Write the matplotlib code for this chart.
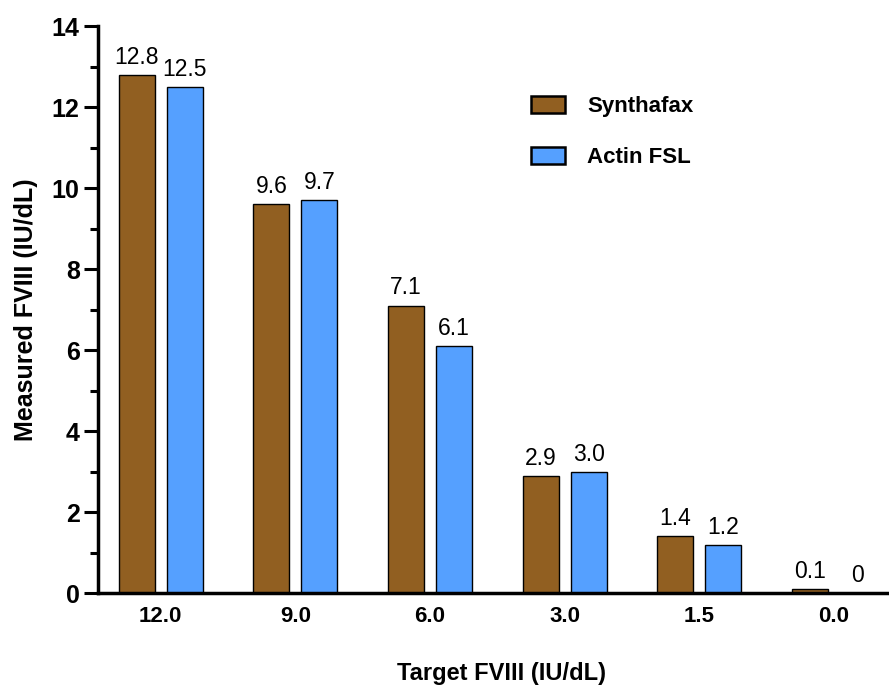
import matplotlib
matplotlib.use("Agg")
import matplotlib.pyplot as plt
import numpy as np
from matplotlib.ticker import MultipleLocator
from matplotlib.patches import Patch

categories = ["12.0", "9.0", "6.0", "3.0", "1.5", "0.0"]
synthafax = [12.8, 9.6, 7.1, 2.9, 1.4, 0.1]
actin = [12.5, 9.7, 6.1, 3.0, 1.2, 0.0]
synth_labels = ["12.8", "9.6", "7.1", "2.9", "1.4", "0.1"]
actin_labels = ["12.5", "9.7", "6.1", "3.0", "1.2", "0"]

plt.rcParams['font.family'] = ['Liberation Sans', 'DejaVu Sans']

fig = plt.figure(figsize=(8.89, 6.85), dpi=100)
ax = fig.add_axes([0.110, 0.134, 0.890, 0.828])

brown = "#915F21"
blue = "#55A0FF"
x = np.arange(len(categories))
w = 0.267
off = 0.178
ax.bar(x - off, synthafax, w, color=brown, edgecolor="black", linewidth=1.0)
ax.bar(x + off, actin, w, color=blue, edgecolor="black", linewidth=1.0)

for xi, v, t in zip(x - off, synthafax, synth_labels):
    ax.text(xi, v + 0.15, t, ha="center", va="bottom", fontsize=16.5)
for xi, v, t in zip(x + off, actin, actin_labels):
    ax.text(xi, v + 0.15, t, ha="center", va="bottom", fontsize=16.5)

ax.set_xlim(-0.468, 5.41)
ax.set_ylim(0, 14)
ax.set_xticks(x)
ax.set_xticklabels(categories, fontsize=16, fontweight="bold")
ax.tick_params(axis="x", length=0, pad=9)
ax.yaxis.set_major_locator(MultipleLocator(2))
ax.yaxis.set_minor_locator(MultipleLocator(1))
ax.tick_params(axis="y", which="major", length=10, width=2.2, labelsize=18, pad=3)
ax.tick_params(axis="y", which="minor", length=6, width=2.2)
for lab in ax.get_yticklabels():
    lab.set_fontweight("bold")
for s in ["top", "right"]:
    ax.spines[s].set_visible(False)
for s in ["left", "bottom"]:
    ax.spines[s].set_linewidth(2.5)

ax.set_ylabel("Measured FVIII (IU/dL)", fontsize=18, fontweight="bold")
ax.yaxis.set_label_coords(-0.076, 0.5)
ax.set_xlabel("Target FVIII (IU/dL)", fontsize=17, fontweight="bold")
ax.xaxis.set_label_coords(0.51, -0.122)

handles = [Patch(facecolor=brown, edgecolor="black", linewidth=1.8, label="Synthafax"),
           Patch(facecolor=blue, edgecolor="black", linewidth=1.8, label="Actin FSL")]
leg = ax.legend(handles=handles, loc="upper left", bbox_to_anchor=(0.522, 0.912),
                frameon=False, prop={"weight": "bold", "size": 16},
                handlelength=1.55, handleheight=0.8, handletextpad=1.0, labelspacing=1.33)

fig.savefig("out.png", dpi=100)
